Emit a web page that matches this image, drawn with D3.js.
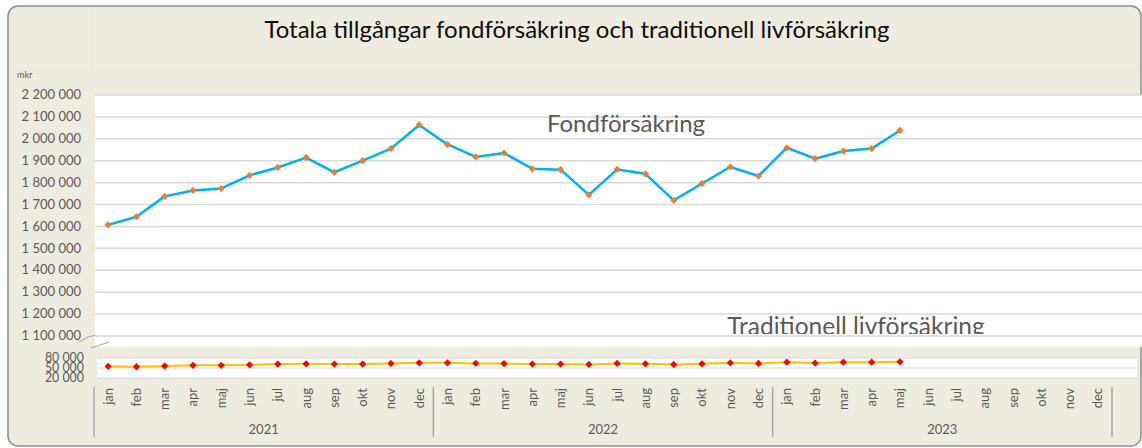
<!DOCTYPE html>
<html><head><meta charset="utf-8">
<script src="https://cdn.jsdelivr.net/npm/d3@7"></script>
<style>
body{margin:0;background:#fff;}
svg{display:block;font-family:Lato,"Liberation Sans",sans-serif;}
</style>
</head><body>
<svg id="c" width="1142" height="448"></svg>
<script>
const titleText = "Totala tillgångar fondförsäkring och traditionell livförsäkring";
const years = ["2021", "2022", "2023"];
const months = ["jan","feb","mar","apr","maj","jun","jul","aug","sep","okt","nov","dec"];
const fondLabel = "Fondförsäkring";
const tradLabel = "Traditionell livförsäkring";
const unitLabel = "mkr";
// Fondförsäkring, jan 2021 – maj 2023 (mkr)
const fondValues = [
  1605000, 1642000, 1735000, 1762000, 1771000, 1831000, 1867000, 1912000, 1845000, 1898000, 1953000, 2061000,
  1972000, 1915000, 1933000, 1861000, 1857000, 1742000, 1858000, 1838000, 1717000, 1794000, 1869000, 1828000,
  1957000, 1907000, 1942000, 1953000, 2036000
];
// Traditionell livförsäkring, jan 2021 – maj 2023 (mkr)
const tradValues = [
  53400, 52300, 54300, 56300, 56300, 58000, 60000, 60900, 60000, 60000, 62000, 63700,
  63700, 62000, 61400, 60000, 60000, 59100, 62000, 60900, 59100, 60900, 63700, 62000,
  65700, 62900, 65700, 65700, 66600
];
const upperTicks = [1100000,1200000,1300000,1400000,1500000,1600000,1700000,1800000,1900000,2000000,2100000,2200000];
const lowerTicks = [20000, 50000, 80000];

const categories = [];
years.forEach(y => months.forEach(m => categories.push({year: y, month: m, key: y + "-" + m})));

const svg = d3.select("#c");
const W = 1142, H = 448;
const beige = "#EEECE1", grid = "#D9D9D9", txt = "#595959";

const loc = d3.formatLocale({decimal: ",", thousands: " ", grouping: [3], currency: ["", ""]});
const fmt = loc.format(",d");

// outer frame
svg.append("rect").attr("x", 8).attr("y", 6).attr("width", 1133).attr("height", 440)
  .attr("rx", 10).attr("fill", beige).attr("stroke", "#8C8C8C").attr("stroke-width", 1.5);
svg.append("line").attr("x1", 92).attr("x2", 92).attr("y1", 7).attr("y2", 69).attr("stroke", "#E8E6DA");
svg.append("line").attr("x1", 9).attr("x2", 1140).attr("y1", 69).attr("y2", 69).attr("stroke", "#E8E6DA");

// title
svg.append("text").attr("x", 577).attr("y", 38).attr("text-anchor", "middle")
  .attr("font-size", 24).attr("fill", "#0D0D0D").text(titleText);

svg.append("text").attr("x", 17).attr("y", 78).attr("font-size", 9).attr("fill", txt).text(unitLabel);

// scales
const x = d3.scaleBand().domain(categories.map(d => d.key)).range([94, 1112]);
const yU = d3.scaleLinear().domain([1100000, 2200000]).range([335.5, 94.5]);
const yL = d3.scaleLinear().domain([20000, 80000]).range([377.7, 357.3]);

// upper plot
svg.append("rect").attr("x", 95).attr("y", 95).attr("width", W - 95).attr("height", 252).attr("fill", "#fff");
const ga = svg.append("g").attr("transform", "translate(95,0)")
  .call(d3.axisLeft(yU).tickValues(upperTicks).tickFormat(fmt).tickSizeInner(-(W - 95)).tickSizeOuter(0).tickPadding(14));
ga.select(".domain").remove();
ga.selectAll(".tick line").attr("stroke", grid).attr("stroke-width", 1.5);
ga.selectAll(".tick text").attr("fill", txt).attr("font-size", 13).attr("font-family", "Lato");

// lower plot
svg.append("rect").attr("x", 97).attr("y", 357).attr("width", 1040).attr("height", 21).attr("fill", "#fff");
const gb = svg.append("g").attr("transform", "translate(97,0)")
  .call(d3.axisLeft(yL).tickValues(lowerTicks).tickFormat(fmt).tickSizeInner(-1040).tickSizeOuter(0).tickPadding(13));
gb.select(".domain").remove();
gb.selectAll(".tick line").attr("stroke", grid).attr("stroke-width", 1.2);
gb.selectAll(".tick text").attr("fill", txt).attr("font-size", 12.4).attr("font-family", "Lato");

// axis break marks
svg.append("path").attr("d", "M79,342 L89,336.5 L95,335.5").attr("fill", "none").attr("stroke", "#A6A6A6").attr("stroke-width", 1);
svg.append("path").attr("d", "M91,348 L109,342").attr("fill", "none").attr("stroke", "#A6A6A6").attr("stroke-width", 1);

// series labels
svg.append("text").attr("x", 626).attr("y", 132).attr("text-anchor", "middle")
  .attr("font-size", 24).attr("fill", txt).text(fondLabel);
svg.append("clipPath").attr("id", "clipT").append("rect").attr("x", 0).attr("y", 0).attr("width", W).attr("height", 334);
svg.append("text").attr("x", 856).attr("y", 335).attr("text-anchor", "middle").attr("clip-path", "url(#clipT)")
  .attr("font-size", 24.5).attr("fill", txt).text(tradLabel);

// series
const cx = i => x(categories[i].key) + x.bandwidth() / 2;
const marker = d3.symbol(d3.symbolSquare, 26);
svg.append("path").datum(fondValues)
  .attr("d", d3.line().x((d, i) => cx(i)).y(d => yU(d)))
  .attr("fill", "none").attr("stroke", "#00B0F0").attr("stroke-width", 2.5).attr("stroke-linejoin", "round");
svg.selectAll(".mf").data(fondValues).join("path").attr("class", "mf")
  .attr("transform", (d, i) => `translate(${cx(i)},${yU(d)}) rotate(45)`)
  .attr("d", marker).attr("fill", "#ED7D31");

svg.append("path").datum(tradValues)
  .attr("d", d3.line().x((d, i) => cx(i)).y(d => yL(d)))
  .attr("fill", "none").attr("stroke", "#FFC000").attr("stroke-width", 2).attr("stroke-linejoin", "round");
svg.selectAll(".mt").data(tradValues).join("path").attr("class", "mt")
  .attr("transform", (d, i) => `translate(${cx(i)},${yL(d)}) rotate(45)`)
  .attr("d", marker).attr("fill", "#FF0000");

// x axis: months + years
const gx = svg.append("g");
gx.selectAll(".ml").data(categories).join("text").attr("class", "ml")
  .attr("transform", d => `translate(${x(d.key) + x.bandwidth() / 2 + 4.5},388) rotate(-90)`)
  .attr("text-anchor", "end").attr("font-size", 13).attr("fill", txt).text(d => d.month);
const yearBounds = years.map((y, i) => ({year: y, x0: x(y + "-jan"), x1: x(y + "-dec") + x.bandwidth()}));
gx.selectAll(".sep").data([yearBounds[0].x0].concat(yearBounds.map(b => b.x1))).join("line").attr("class", "sep")
  .attr("x1", d => d).attr("x2", d => d).attr("y1", 387).attr("y2", 437)
  .attr("stroke", "#A6A6A6").attr("stroke-width", 1.5);
gx.selectAll(".yl").data(yearBounds).join("text").attr("class", "yl")
  .attr("x", d => (d.x0 + d.x1) / 2).attr("y", 434).attr("text-anchor", "middle")
  .attr("font-size", 13).attr("fill", txt).text(d => d.year);
</script>
</body></html>
